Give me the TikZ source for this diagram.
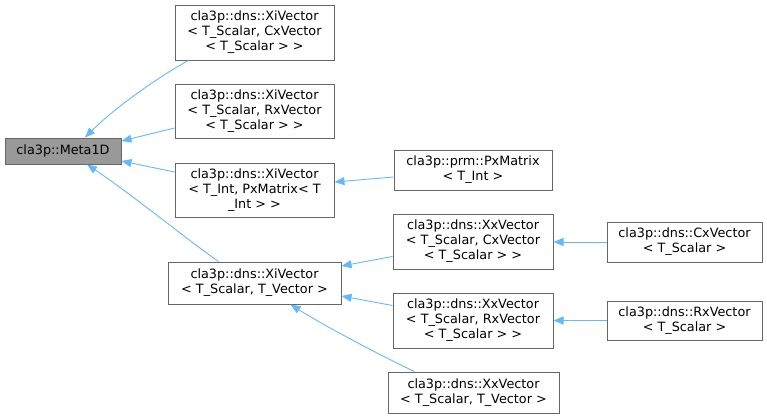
\documentclass[tikz,border=0pt]{standalone}
\usepackage{fontspec}
\setmainfont{DejaVu Sans}
\usetikzlibrary{arrows.meta}
\definecolor{edgeblue}{HTML}{63B8FF}
\definecolor{boxborder}{HTML}{666666}
\definecolor{basefill}{HTML}{999999}
\tikzset{
  cls/.style={draw=boxborder, line width=1pt, fill=white, rectangle, inner sep=0pt, align=center,
    font=\fontsize{12.8}{15}\selectfont, text=black},
  basecls/.style={cls, fill=basefill},
  inh/.style={draw=edgeblue, line width=0.9pt, -{Triangle[length=10pt,width=8pt,fill=edgeblue]}},
}
\begin{document}
\begin{tikzpicture}[x=1pt,y=-1pt]
\useasboundingbox (0,0) rectangle (767,418);
\node[basecls, minimum width=116pt, minimum height=26pt] (meta) at (63,151) {cla3p::Meta1D};
\node[cls, minimum width=159pt, minimum height=55pt] (xicx) at (254.5,32.5) {cla3p::dns::XiVector\\< T\_Scalar, CxVector\\< T\_Scalar > >};
\node[cls, minimum width=159pt, minimum height=54pt] (xirx) at (254.5,111) {cla3p::dns::XiVector\\< T\_Scalar, RxVector\\< T\_Scalar > >};
\node[cls, minimum width=159pt, minimum height=54pt] (xipx) at (254.5,190) {cla3p::dns::XiVector\\< T\_Int, PxMatrix< T\\\_Int > >};
\node[cls, minimum width=158pt, minimum height=40pt] (px) at (473,170) {cla3p::prm::PxMatrix\\< T\_Int >};
\node[cls, minimum width=173pt, minimum height=42pt] (xitv) at (254.5,283) {cla3p::dns::XiVector\\< T\_Scalar, T\_Vector >};
\node[cls, minimum width=160pt, minimum height=55pt] (xxcx) at (473,241.5) {cla3p::dns::XxVector\\< T\_Scalar, CxVector\\< T\_Scalar > >};
\node[cls, minimum width=160pt, minimum height=55pt] (xxrx) at (473,320.5) {cla3p::dns::XxVector\\< T\_Scalar, RxVector\\< T\_Scalar > >};
\node[cls, minimum width=171pt, minimum height=41pt] (xxtv) at (473.5,392.5) {cla3p::dns::XxVector\\< T\_Scalar, T\_Vector >};
\node[cls, minimum width=155pt, minimum height=40pt] (cxv) at (684.5,242) {cla3p::dns::CxVector\\< T\_Scalar >};
\node[cls, minimum width=155pt, minimum height=39pt] (rxv) at (684.5,320.5) {cla3p::dns::RxVector\\< T\_Scalar >};

\draw[inh] ([xshift=-66pt]xicx.south) .. controls +(-28,15) and +(30,-30) .. ([xshift=22pt]meta.north);
\draw[inh] ([yshift=-17pt]xirx.west) -- ([yshift=10pt]meta.east);
\draw[inh] ([yshift=18pt]xipx.west) -- ([yshift=-10pt]meta.east);
\draw[inh] ([xshift=-36pt]xitv.north) .. controls +(-25,-17) and +(45,30) .. ([xshift=24pt]meta.south);
\draw[inh] ([yshift=-7pt]px.west) -- ([yshift=8pt]xipx.east);
\draw[inh] ([yshift=-15pt]xxcx.west) -- ([yshift=17pt]xitv.east);
\draw[inh] ([yshift=15pt]xxrx.west) -- ([yshift=-13pt]xitv.east);
\draw[inh] ([xshift=-59pt]xxtv.north) .. controls +(-22,-10) and +(40,25) .. ([xshift=36pt]xitv.south);
\draw[inh] (cxv.west) -- (cxv.west -| xxcx.east);
\draw[inh] (rxv.west) -- (rxv.west -| xxrx.east);
\end{tikzpicture}
\end{document}
